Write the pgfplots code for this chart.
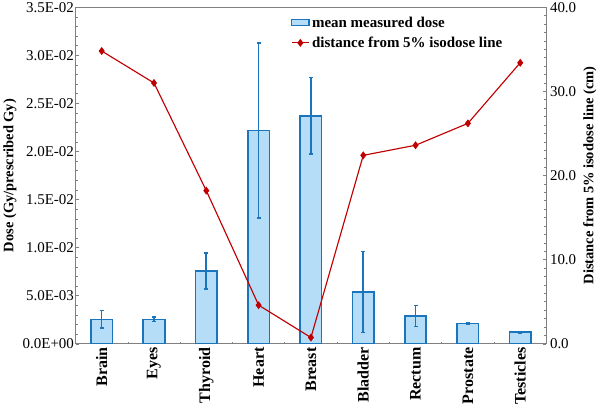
\documentclass[border=0pt]{standalone}
\usepackage{fontspec}
\setmainfont{Liberation Serif}
\usepackage{pgfplots}
\pgfplotsset{compat=1.18}
\usetikzlibrary{calc}
\definecolor{barfill}{HTML}{B5DDF8}
\definecolor{baredge}{HTML}{1B75BC}
\definecolor{linered}{HTML}{C00000}
\definecolor{axgray}{HTML}{808080}
\pgfplotstableread{
x y e
0 0.00255 0.0009
1 0.00255 0.00023
2 0.00757 0.00186
3 0.02217 0.0091
4 0.02371 0.00396
5 0.00540 0.0042
6 0.00289 0.0011
7 0.00213 0.00005
8 0.00121 0.0001
}\dosetable
\pgfplotstableread{
x d
0 34.8
1 31.0
2 18.2
3 4.6
4 0.75
5 22.4
6 23.6
7 26.2
8 33.4
}\disttable
\begin{document}
\begin{tikzpicture}
\begin{axis}[name=a,
  scale only axis, width=456pt, height=326pt,
  xmin=-0.5, xmax=8.5, ymin=0, ymax=0.035,
  scaled y ticks=false,
  axis line style={axgray, line width=0.8pt},
  ytick pos=left, xtick pos=bottom,
  ytick={0,0.005,0.01,0.015,0.02,0.025,0.03,0.035},
  yticklabels={0.0E+00,5.0E-03,1.0E-02,1.5E-02,2.0E-02,2.5E-02,3.0E-02,3.5E-02},
  minor y tick num=4,
  tick align=inside,
  major tick length=3.5pt, minor tick length=2pt,
  tick style={axgray, line width=0.6pt},
  xtick={0,...,8},
  xticklabels={Brain,Eyes,Thyroid,Heart,Breast,Bladder,Rectum,Prostate,Testicles},
  major x tick style={draw=none},
  minor xtick={0.5,1.5,2.5,3.5,4.5,5.5,6.5,7.5},
  x tick label style={rotate=90, anchor=east, font=\fontsize{15.5}{17}\selectfont\bfseries},
  y tick label style={font=\fontsize{14.5}{16}\selectfont, xshift=2pt},
  ylabel={Dose (Gy/prescribed Gy)},
  ylabel style={font=\fontsize{14}{16}\selectfont\bfseries, yshift=-1pt},
]
\addplot[ybar, bar width=0.41, fill=barfill, draw=baredge, line width=1.6pt,
  error bars/.cd, y dir=both, y explicit,
  error bar style={baredge, line width=1.6pt},
  error mark options={rotate=90, mark size=2pt, baredge, line width=1.4pt}]
  table[x=x, y=y, y error=e]{\dosetable};
\end{axis}
\begin{axis}[name=b,
  scale only axis, width=456pt, height=326pt,
  xmin=-0.5, xmax=8.5, ymin=0, ymax=40,
  axis x line=none, axis y line*=right,
  axis line style={axgray, line width=0.8pt},
  ytick={0,10,20,30,40},
  minor y tick num=9,
  tick align=inside,
  major tick length=3.5pt, minor tick length=2pt,
  tick style={axgray, line width=0.6pt},
  /pgf/number format/fixed, /pgf/number format/fixed zerofill,
  /pgf/number format/precision=1, /pgf/number format/assume math mode=true,
  y tick label style={font=\fontsize{14.5}{16}\selectfont},
  ylabel={Distance from 5\% isodose line (cm)},
  ylabel style={font=\fontsize{14}{16}\selectfont\bfseries},
  legend style={draw=none, fill=none, font=\fontsize{14.5}{16}\selectfont\bfseries,
    at={(0.45,0.985)}, anchor=north west, row sep=4pt},
  legend cell align=left,
]
\addlegendimage{area legend, fill=barfill, draw=baredge, line width=1.6pt}
\addlegendentry{mean measured dose}
\addplot[linered, line width=1.1pt, mark=diamond*, mark size=3pt, mark options={fill=linered}]
  table[x=x, y=d]{\disttable};
\addlegendentry{distance from 5\% isodose line}
\end{axis}
\pgfresetboundingbox
\path ($(a.outer south west)+(0,-3pt)$) rectangle ($(b.outer north east |- a.north)+(0,7pt)$);
\end{tikzpicture}
\end{document}
